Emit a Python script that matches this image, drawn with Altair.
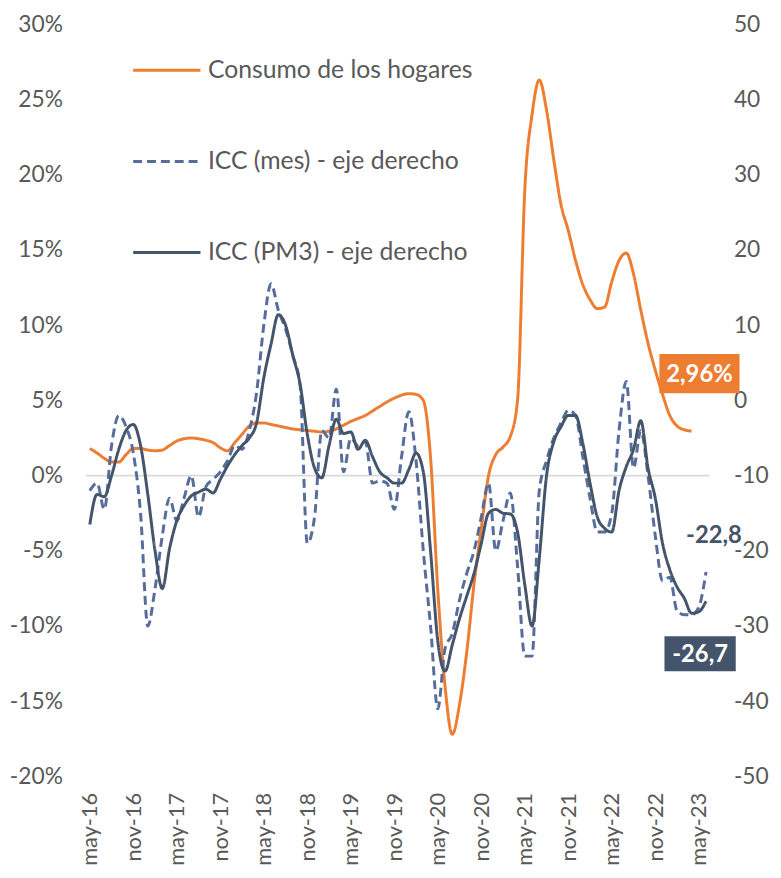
import altair as alt
import pandas as pd

# ---------------- data ----------------
TICK_LABELS = ["may-16", "nov-16", "may-17", "nov-17", "may-18", "nov-18", "may-19",
               "nov-19", "may-20", "nov-20", "may-21", "nov-21", "may-22", "nov-22", "may-23"]
TICK_IDX = [0, 6, 12, 18, 24, 30, 36, 42, 48, 54, 60, 66, 72, 78, 84]
MES_IDX = list(range(86))  # may-16 ... jun-23

# Consumo de los hogares (%), eje izquierdo
CONSUMO = [1.8, 1.5, 1.15, 0.9, 0.9, 1.4, 1.8, 1.8, 1.7, 1.65,
           1.7, 2.0, 2.3, 2.45, 2.5, 2.45, 2.35, 2.2, 1.85, 1.65,
           2.2, 2.75, 3.3, 3.5, 3.5, 3.4, 3.3, 3.2, 3.1, 3.05,
           3.0, 2.95, 2.9, 2.95, 3.1, 3.35, 3.6, 3.8, 4.0, 4.3,
           4.6, 4.9, 5.15, 5.35, 5.45, 5.4, 5.0, 1.2, -7.6, -14.0,
           -17.2, -15.2, -11.7, -7.2, -3.5, 0.0, 1.4, 1.9, 2.6, 5.0,
           19.0, 24.0, 26.3, 24.3, 21.0, 18.0, 16.3, 14.3, 12.7, 11.7,
           11.1, 11.2, 12.9, 14.3, 14.8, 13.4, 11.0, 8.8, 7.0, 5.4,
           4.0, 3.3, 3.05, 2.96]

# ICC (mes), eje derecho
ICC_MES = [-12, -11, -14.5, -6, -2, -3.5, -7, -15, -30, -25,
           -18, -13, -16, -13, -10, -15.5, -11.5, -10.5, -9.5, -8,
           -6, -6.5, -4, 1, 10, 15.5, 12, 9.5, 6, 2,
           -19, -15.5, -4, -5, 1.5, -9.5, -5, -6, -5.5, -11,
           -10.7, -11, -14.5, -7.5, -1.5, -8, -20, -30, -41, -33,
           -31, -26.5, -23, -20, -15.5, -11, -20, -16, -12.3, -22,
           -34, -34, -12, -8, -5, -3, -1.3, -2, -7.5, -13,
           -17.5, -17.5, -15, -4, 2.5, -9, -4, -10, -18, -24,
           -23.5, -28, -28.5, -28.5, -27.5, -22.8]

# ICC (PM3), eje derecho
ICC_PM3 = [-16.5, -12.5, -12.8, -10, -6.5, -4, -3.2, -6, -12.5, -20,
           -25, -19.7, -16, -14, -12.7, -12.2, -11.8, -12.3, -10.5, -8.7,
           -7.2, -6, -5, -3, 3, 7.5, 11.4, 10, 6, 2.2,
           -4.5, -9, -10.3, -6, -2.5, -4.4, -4.2, -6.5, -5.3, -7.5,
           -9.5, -10.3, -11, -11, -9.2, -7, -9.5, -20, -32, -36,
           -32.5, -29, -26, -23, -19, -15, -14.5, -15, -15.1, -17.5,
           -24.5, -30, -21, -10, -5.5, -3.5, -2, -2, -5.7, -11,
           -15.5, -17, -17.5, -12, -8.8, -6.5, -2.7, -9, -13, -19,
           -22.5, -24.8, -26.3, -28.3, -28.1, -26.7]

SERIES = ["Consumo de los hogares", "ICC (mes) - eje derecho", "ICC (PM3) - eje derecho"]
COLORS = ["#ED7D31", "#566D9C", "#44546A"]
DASHES = [[1, 0], [9, 5], [1, 0]]

FONT = "Lato"
GREY = "#595959"

df_c = pd.DataFrame({"idx": MES_IDX[:len(CONSUMO)],
                     "valor": [v / 100 for v in CONSUMO],
                     "serie": SERIES[0]})
df_icc = pd.concat([
    pd.DataFrame({"idx": MES_IDX, "valor": ICC_MES, "serie": SERIES[1]}),
    pd.DataFrame({"idx": MES_IDX, "valor": ICC_PM3, "serie": SERIES[2]}),
], ignore_index=True)
df_zero = pd.DataFrame({"valor": [0.0]})

def fmt(v, pct=False):
    s = (f"{v:.2f}" if pct else f"{v:.1f}").replace(".", ",")
    return s + ("%" if pct else "")

lab_c = pd.DataFrame({"idx": [len(CONSUMO) - 1], "valor": [CONSUMO[-1] / 100],
                      "txt": [fmt(CONSUMO[-1], True)]})
lab_mes = pd.DataFrame({"idx": [MES_IDX[-1]], "valor": [ICC_MES[-1]], "txt": [fmt(ICC_MES[-1])]})
lab_pm3 = pd.DataFrame({"idx": [MES_IDX[-1]], "valor": [ICC_PM3[-1]], "txt": [fmt(ICC_PM3[-1])]})

# ---------------- scales / axes ----------------
label_expr = "[" + ",".join(f"'{t}'" for t in TICK_LABELS) + "][round(datum.value/6)]"
x_enc = alt.X("idx:Q",
              scale=alt.Scale(domain=[-0.5, 85.5], nice=False, zero=False),
              axis=alt.Axis(values=TICK_IDX, labelExpr=label_expr, labelAngle=270,
                            labelPadding=16, labelFontSize=22, title=None,
                            domain=False, ticks=False, grid=False))

left_vals = [round(-0.20 + 0.05 * k, 2) for k in range(11)]
y_left_scale = alt.Scale(domain=[-0.20, 0.30], nice=False, zero=False)
left_axis = alt.Axis(values=left_vals, orient="left", title=None,
                     labelExpr="replace(format(datum.value, '.0%'), '\u2212', '-')",
                     labelPadding=24, domain=False, ticks=False, grid=False)
y_left = alt.Y("valor:Q", scale=y_left_scale, axis=left_axis)

right_vals = list(range(-50, 51, 10))
y_right_scale = alt.Scale(domain=[-50, 50], nice=False, zero=False)
right_axis = alt.Axis(values=right_vals, orient="right", title=None,
                      labelExpr="replace(format(datum.value, 'd'), '\u2212', '-')",
                      labelPadding=24, domain=False, ticks=False, grid=False)
y_right = alt.Y("valor:Q", scale=y_right_scale, axis=right_axis)

legend = alt.Legend(title=None, orient="none", legendX=46, legendY=11,
                    direction="vertical", symbolType="stroke", symbolSize=4624,
                    symbolStrokeWidth=3, labelFont=FONT, labelFontSize=25,
                    labelColor=GREY, labelOffset=6, labelLimit=500, rowPadding=43)
color_enc = alt.Color("serie:N", scale=alt.Scale(domain=SERIES, range=COLORS), legend=legend)
dash_enc = alt.StrokeDash("serie:N", scale=alt.Scale(domain=SERIES, range=DASHES), legend=legend)

# ---------------- left layer ----------------
zero_rule = alt.Chart(df_zero).mark_rule(color="#D9D9D9", strokeWidth=2).encode(y=y_left)
orange = alt.Chart(df_c).mark_line(strokeWidth=3, interpolate="monotone").encode(
    x=x_enc, y=y_left, color=color_enc, strokeDash=dash_enc)
box_path = "M-1,-0.49H1V0.49H-1Z"
orange_box = alt.Chart(lab_c).mark_point(shape=box_path, size=81 * 81, filled=True,
                                          fill="#ED7D31", opacity=1, strokeWidth=0,
                                          xOffset=8, yOffset=-58).encode(
    x=x_enc, y=y_left)
orange_txt = alt.Chart(lab_c).mark_text(font=FONT, fontWeight="bold", fontSize=24,
                                        color="white", align="center", baseline="middle",
                                        dx=8, dy=-57).encode(
    x=x_enc, y=y_left, text="txt:N")
left = alt.layer(zero_rule, orange, orange_box, orange_txt)

# ---------------- right layer ----------------
icc = alt.Chart(df_icc).mark_line(strokeWidth=3, interpolate="monotone").encode(
    x=x_enc, y=y_right, color=color_enc, strokeDash=dash_enc,
    order=alt.Order("idx:Q"))
mes_txt = alt.Chart(lab_mes).mark_text(font=FONT, fontWeight="bold", fontSize=24,
                                       color="#44546A", align="center", baseline="middle",
                                       dx=8, dy=-36).encode(
    x=x_enc, y=y_right, text="txt:N")
pm3_box = alt.Chart(lab_pm3).mark_point(shape=box_path, size=72 * 72, filled=True,
                                         fill="#44546A", opacity=1, strokeWidth=0,
                                         xOffset=-6, yOffset=53).encode(
    x=x_enc, y=y_right)
pm3_txt = alt.Chart(lab_pm3).mark_text(font=FONT, fontWeight="bold", fontSize=24,
                                       color="white", align="center", baseline="middle",
                                       dx=-6, dy=54).encode(
    x=x_enc, y=y_right, text="txt:N")
right = alt.layer(icc, mes_txt, pm3_box, pm3_txt)

chart = alt.layer(left, right).resolve_scale(y="independent").properties(
    width=630, height=760,
    autosize=alt.AutoSizeParams(type="none"),
    padding={"left": 79, "top": 12, "right": 64, "bottom": 90},
).configure_axis(
    labelFont=FONT, labelFontSize=23, labelColor=GREY
).configure_view(strokeWidth=0)

chart.save("out.html", embed_options={"renderer": "svg", "actions": False})
